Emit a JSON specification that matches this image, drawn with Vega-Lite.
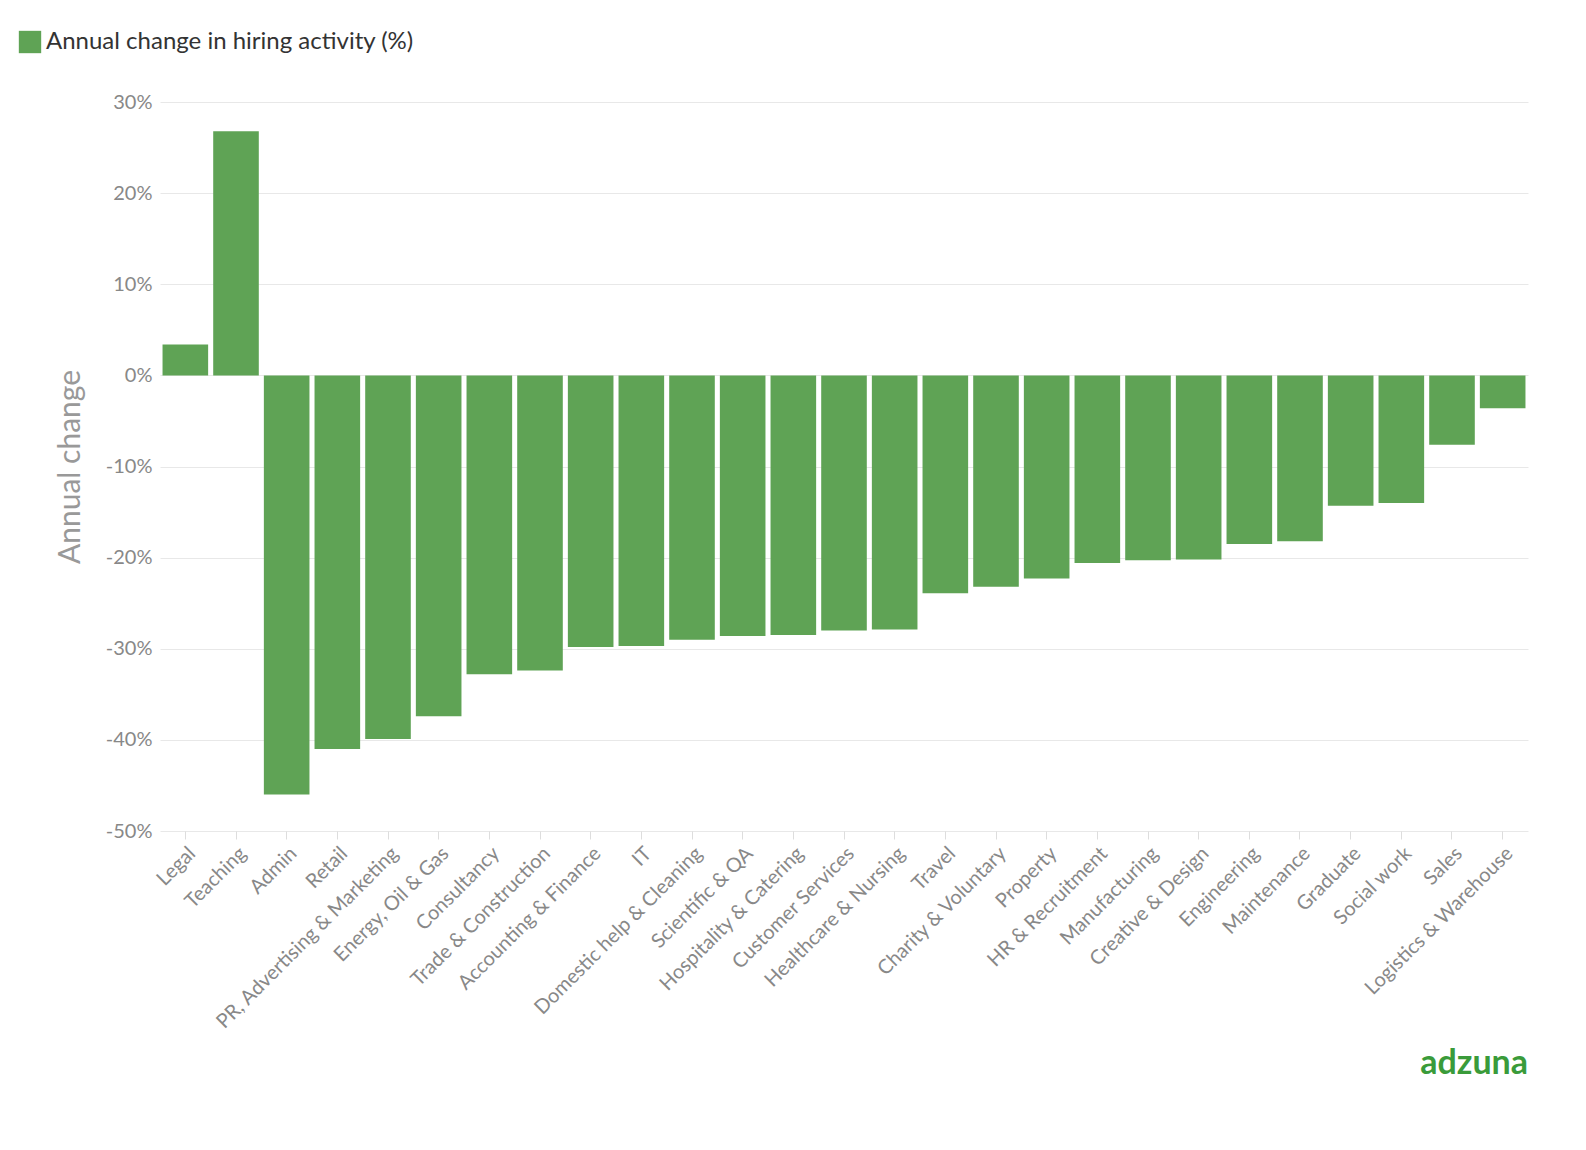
{
  "$schema": "https://vega.github.io/schema/vega-lite/v6.json",
  "autosize": {"type": "none"},
  "padding": {"left": 160, "top": 102, "right": 58, "bottom": 319},
  "width": 1368,
  "height": 729,
  "background": "white",
  "config": {"font": "Lato", "view": {"stroke": null}},
  "title": {"text": "adzuna", "orient": "bottom", "anchor": "end", "color": "#3a9b3a", "fontSize": 34, "fontWeight": "bold", "offset": 15},
  "data": {"values": [
    {"sector": "Legal", "change": 3.4},
    {"sector": "Teaching", "change": 26.8},
    {"sector": "Admin", "change": -46.0},
    {"sector": "Retail", "change": -41.0},
    {"sector": "PR, Advertising & Marketing", "change": -39.9},
    {"sector": "Energy, Oil & Gas", "change": -37.4},
    {"sector": "Consultancy", "change": -32.8},
    {"sector": "Trade & Construction", "change": -32.4},
    {"sector": "Accounting & Finance", "change": -29.8},
    {"sector": "IT", "change": -29.7},
    {"sector": "Domestic help & Cleaning", "change": -29.0},
    {"sector": "Scientific & QA", "change": -28.6},
    {"sector": "Hospitality & Catering", "change": -28.5},
    {"sector": "Customer Services", "change": -28.0},
    {"sector": "Healthcare & Nursing", "change": -27.9},
    {"sector": "Travel", "change": -23.9},
    {"sector": "Charity & Voluntary", "change": -23.2},
    {"sector": "Property", "change": -22.3},
    {"sector": "HR & Recruitment", "change": -20.6},
    {"sector": "Manufacturing", "change": -20.3},
    {"sector": "Creative & Design", "change": -20.2},
    {"sector": "Engineering", "change": -18.5},
    {"sector": "Maintenance", "change": -18.2},
    {"sector": "Graduate", "change": -14.3},
    {"sector": "Social work", "change": -14.0},
    {"sector": "Sales", "change": -7.6},
    {"sector": "Logistics & Warehouse", "change": -3.6}
  ]},
  "mark": {"type": "bar", "color": "#5fa355"},
  "encoding": {
    "x": {
      "field": "sector", "type": "nominal", "sort": null, "title": null,
      "scale": {"paddingInner": 0.1, "paddingOuter": 0.05},
      "axis": {"labelAngle": -45, "labelFontSize": 20, "labelColor": "#888", "labelLimit": 0, "domain": false, "tickColor": "#ddd", "tickSize": 8, "labelPadding": 4}
    },
    "y": {
      "field": "change", "type": "quantitative", "title": "Annual change",
      "scale": {"domain": [-50, 30], "nice": false},
      "axis": {"values": [-50, -40, -30, -20, -10, 0, 10, 20, 30], "labelExpr": "datum.value + '%'", "labelFontSize": 20, "labelColor": "#888", "domain": false, "ticks": false, "gridColor": "#e8e8e8", "titleFontSize": 30, "titleColor": "#999", "titleFontWeight": "normal", "titlePadding": 20, "labelPadding": 8}
    },
    "color": {
      "datum": "Annual change in hiring activity (%)", "type": "nominal",
      "scale": {"range": ["#5fa355"]},
      "legend": {"title": null, "orient": "none", "legendX": -142, "legendY": -72, "symbolType": "square", "symbolSize": 500, "labelFontSize": 24, "labelColor": "#333", "labelLimit": 0}
    }
  }
}
